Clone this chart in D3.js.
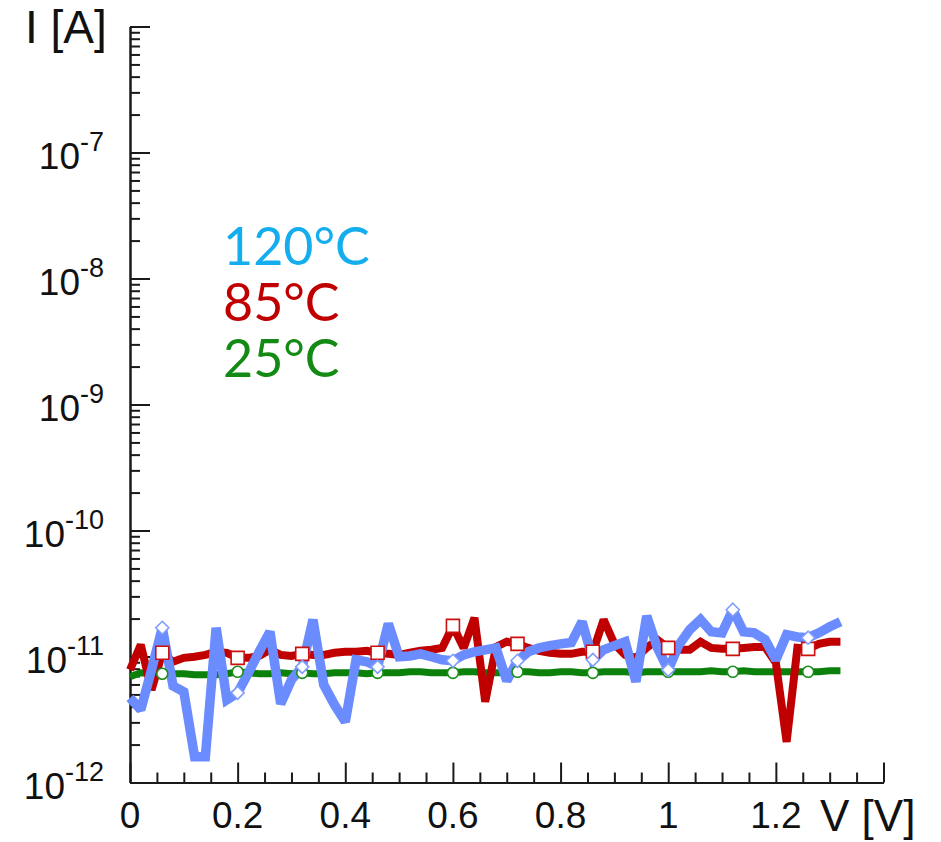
<!DOCTYPE html>
<html>
<head>
<meta charset="utf-8">
<script src="https://cdn.jsdelivr.net/npm/d3@7"></script>
<style>
  body { margin: 0; background: #fff; }
  svg { display: block; }
</style>
</head>
<body>
<svg id="chart" width="941" height="842"></svg>
<script>
// Bias voltage sweep (V)
const voltage = [
  0.00, 0.02, 0.04, 0.06, 0.08, 0.10, 0.12, 0.14, 0.16, 0.18,
  0.20, 0.22, 0.24, 0.26, 0.28, 0.30, 0.32, 0.34, 0.36, 0.38,
  0.40, 0.42, 0.44, 0.46, 0.48, 0.50, 0.52, 0.54, 0.56, 0.58,
  0.60, 0.62, 0.64, 0.66, 0.68, 0.70, 0.72, 0.74, 0.76, 0.78,
  0.80, 0.82, 0.84, 0.86, 0.88, 0.90, 0.92, 0.94, 0.96, 0.98,
  1.00, 1.02, 1.04, 1.06, 1.08, 1.10, 1.12, 1.14, 1.16, 1.18,
  1.20, 1.22, 1.24, 1.26, 1.28, 1.30, 1.32
];

// Leakage current in pA at each temperature
const current120_pA = [
  4.70, 3.78, 7.84, 16.9, 5.85, 5.25, 1.60, 1.60, 16.9, 4.53,
  5.15, 7.42, 10.9, 15.7, 4.21, 6.53, 8.28, 19.6, 5.96, 4.14,
  3.03, 9.41, 9.08, 8.28, 18.2, 9.95, 10.1, 10.5, 9.95, 9.41,
  9.25, 10.3, 10.9, 11.3, 11.7, 6.41, 9.25, 10.9, 11.7, 12.2,
  12.6, 12.9, 18.9, 9.41, 11.3, 12.2, 13.1, 6.30, 21.0, 11.7,
  7.84, 12.4, 16.3, 19.6, 15.7, 15.4, 23.5, 15.7, 15.4, 13.6,
  9.41, 14.9, 14.3, 14.1, 15.4, 17.2, 18.9
];
const current85_pA = [
  7.84, 12.4, 5.44, 10.7, 9.08, 9.76, 9.95, 10.3, 10.9, 10.7,
  9.76, 9.76, 10.1, 11.3, 10.3, 10.1, 10.5, 10.3, 10.3, 10.7,
  10.9, 10.9, 11.1, 10.7, 10.5, 10.3, 10.7, 11.1, 11.3, 11.7,
  17.5, 11.7, 20.3, 4.37, 11.9, 13.1, 12.6, 11.7, 11.1, 10.7,
  10.5, 10.5, 10.9, 10.9, 19.6, 12.6, 10.3, 9.76, 11.7, 13.6,
  11.7, 11.3, 11.3, 13.1, 11.7, 11.5, 11.5, 11.7, 11.9, 11.9,
  8.91, 2.10, 11.7, 11.5, 12.6, 13.1, 13.1
];
const current25_pA = [
  6.90, 7.42, 7.29, 7.29, 7.29, 7.29, 7.16, 7.16, 7.16, 7.29,
  7.56, 7.42, 7.29, 7.29, 7.42, 7.29, 7.42, 7.29, 7.29, 7.42,
  7.42, 7.42, 7.29, 7.42, 7.42, 7.42, 7.56, 7.56, 7.42, 7.42,
  7.42, 7.56, 7.56, 7.42, 7.42, 7.42, 7.56, 7.56, 7.42, 7.42,
  7.56, 7.56, 7.42, 7.42, 7.56, 7.56, 7.56, 7.42, 7.56, 7.56,
  7.56, 7.56, 7.56, 7.56, 7.70, 7.56, 7.56, 7.70, 7.56, 7.56,
  7.56, 7.56, 7.56, 7.56, 7.56, 7.70, 7.70
];

// Sample indices that carry a symbol
const markerIndex = [3, 10, 16, 23, 30, 36, 43, 50, 56, 63];

// Axis ticks and labels
const xTickValues = [0, 0.2, 0.4, 0.6, 0.8, 1.0, 1.2];
const xTickLabels = ["0", "0.2", "0.4", "0.6", "0.8", "1", "1.2"];
const yDecadeExponents = [-7, -8, -9, -10, -11, -12];
const legendLabels = ["120°C", "85°C", "25°C"];

const PICO = 1e-12;
const FONT = "'Liberation Sans', Arial, sans-serif";

const svg = d3.select("#chart");

const x = d3.scaleLinear().domain([0, 1.4]).range([130, 883.5]);
const y = d3.scaleLog().domain([1e-12, 1e-6]).range([782.5, 26.5]);

// ---- axes (ticks point into the plot) ----
const decades = d3.range(-12, -5).map(e => Math.pow(10, e));
const minorY = [];
for (let e = -12; e < -6; e++) {
  for (let m = 2; m <= 9; m++) minorY.push(m * Math.pow(10, e));
}
const majorX = d3.range(0, 8).map(i => i * 0.2);
const minorX = d3.range(0, 29).map(i => i * 0.05).filter(v => Math.abs(v / 0.2 - Math.round(v / 0.2)) > 1e-6);

function styleAxis(g) {
  g.selectAll("path, line").attr("stroke", "#1a1a1a").attr("stroke-width", 2);
  g.selectAll("text").remove();
}

svg.append("g").attr("transform", `translate(${x(0)},0)`)
  .call(d3.axisRight(y).tickValues(decades).tickSize(20).tickSizeOuter(0).tickFormat(""))
  .call(styleAxis);
svg.append("g").attr("transform", `translate(${x(0)},0)`)
  .call(d3.axisRight(y).tickValues(minorY).tickSize(10).tickSizeOuter(0).tickFormat(""))
  .call(styleAxis);
svg.append("g").attr("transform", `translate(0,${y(1e-12)})`)
  .call(d3.axisTop(x).tickValues(majorX).tickSize(20).tickSizeOuter(0).tickFormat(""))
  .call(styleAxis);
svg.append("g").attr("transform", `translate(0,${y(1e-12)})`)
  .call(d3.axisTop(x).tickValues(minorX).tickSize(10).tickSizeOuter(0).tickFormat(""))
  .call(styleAxis);

// ---- tick labels ----
svg.append("g").selectAll("text").data(xTickValues).join("text")
  .attr("x", d => x(d)).attr("y", 828)
  .attr("text-anchor", "middle")
  .attr("font-family", FONT).attr("font-size", 37).attr("fill", "#111")
  .text((d, i) => xTickLabels[i]);

const yl = svg.append("g").selectAll("text").data(yDecadeExponents).join("text")
  .attr("x", 104).attr("y", e => y(Math.pow(10, e)) + 16)
  .attr("text-anchor", "end")
  .attr("font-family", FONT).attr("font-size", 37).attr("fill", "#111");
yl.append("tspan").text("10");
yl.append("tspan").attr("dy", -18).attr("font-size", 27).text(e => "-" + Math.abs(e));

// ---- axis titles ----
svg.append("text").attr("x", 25).attr("y", 43)
  .attr("font-family", FONT).attr("font-size", 46).attr("fill", "#111")
  .text("I [A]");
svg.append("text").attr("x", 820).attr("y", 831)
  .attr("font-family", FONT).attr("font-size", 44).attr("fill", "#111")
  .text("V [V]");

// ---- data series ----
const series = [
  { values: current25_pA, color: "#0b800b", width: 7, symbol: "circle", mColor: "#1a8f1a" },
  { values: current85_pA, color: "#c00000", width: 8, symbol: "square", mColor: "#cc1010" },
  { values: current120_pA, color: "#6a8cff", width: 9.5, symbol: "diamond", mColor: "#7f9cff" }
];

const line = d3.line()
  .x((d, i) => x(voltage[i]))
  .y(d => y(d * PICO));

svg.append("g").selectAll("path").data(series).join("path")
  .attr("d", s => line(s.values))
  .attr("fill", "none")
  .attr("stroke", s => s.color)
  .attr("stroke-width", s => s.width)
  .attr("stroke-linejoin", "miter")
  .attr("stroke-miterlimit", 2);

const symbolPath = {
  circle: "M5.5,0A5.5,5.5,0,1,1,-5.5,0A5.5,5.5,0,1,1,5.5,0Z",
  square: "M-6.5,-6.5H6.5V6.5H-6.5Z",
  diamond: "M0,-6.5L6.5,0L0,6.5L-6.5,0Z"
};

series.forEach(s => {
  svg.append("g").selectAll("path").data(markerIndex).join("path")
    .attr("transform", i => `translate(${x(voltage[i])},${y(s.values[i] * PICO)})`)
    .attr("d", symbolPath[s.symbol])
    .attr("fill", "#fff")
    .attr("stroke", s.mColor)
    .attr("stroke-width", 1.6);
});

// ---- temperature legend ----
const legendColors = ["#14adee", "#c00000", "#138a13"];
svg.append("g").selectAll("text").data(legendLabels).join("text")
  .attr("x", 223).attr("y", (d, i) => 265 + i * 56)
  .attr("font-family", "Lato, 'Open Sans', sans-serif")
  .attr("font-size", 52)
  .attr("fill", (d, i) => legendColors[i])
  .text(d => d);
</script>
</body>
</html>
